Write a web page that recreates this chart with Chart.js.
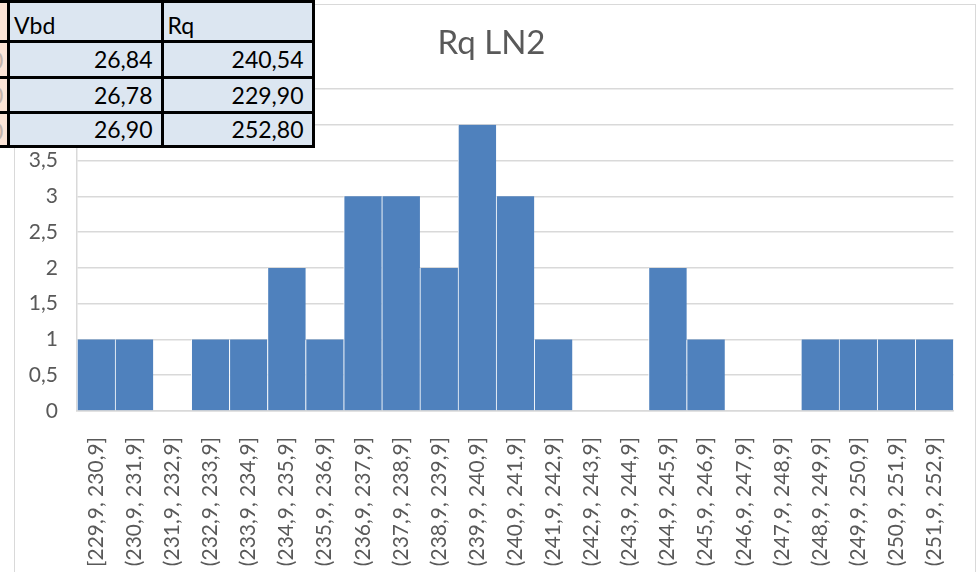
<!DOCTYPE html>
<html>
<head>
<meta charset="utf-8">
<script src="https://cdn.jsdelivr.net/npm/chart.js@4/dist/chart.umd.min.js"></script>
<style>
  html, body { margin: 0; padding: 0; background: #fff; overflow: hidden; }
  body { width: 978px; height: 572px; position: relative; }
  #frame { position: absolute; left: 14px; top: 4px; width: 960px; height: 700px; border: 1.5px solid #d9d9d9; }
  #wrap { position: absolute; left: 0; top: 0; width: 978px; height: 572px; }
  #sheet { position: absolute; left: 0; top: 0; width: 330px; height: 160px; font-family: Lato, sans-serif; font-size: 23px; color: #000; }
  #sheet div { position: absolute; box-sizing: border-box; }
</style>
</head>
<body>
<div id="frame"></div>
<div id="wrap"><canvas id="myChart"></canvas></div>
<div id="sheet"></div>
<script>
// histogram bins and counts
const categories = [
  '[229,9, 230,9]', '(230,9, 231,9]', '(231,9, 232,9]', '(232,9, 233,9]',
  '(233,9, 234,9]', '(234,9, 235,9]', '(235,9, 236,9]', '(236,9, 237,9]',
  '(237,9, 238,9]', '(238,9, 239,9]', '(239,9, 240,9]', '(240,9, 241,9]',
  '(241,9, 242,9]', '(242,9, 243,9]', '(243,9, 244,9]', '(244,9, 245,9]',
  '(245,9, 246,9]', '(246,9, 247,9]', '(247,9, 248,9]', '(248,9, 249,9]',
  '(249,9, 250,9]', '(250,9, 251,9]', '(251,9, 252,9]'
];
const counts = [1, 1, 0, 1, 1, 2, 1, 3, 3, 2, 4, 3, 1, 0, 0, 2, 1, 0, 0, 1, 1, 1, 1];
const chartTitle = 'Rq LN2';

// the little spreadsheet table pasted over the chart
const tableHeaders = ['Vbd', 'Rq'];
const vbdValues = ['26,84', '26,78', '26,90'];
const rqValues = ['240,54', '229,90', '252,80'];

var ctx = document.getElementById('myChart').getContext('2d');
var chart = new Chart(ctx, {
  type: 'bar',
  data: {
    labels: categories,
    datasets: [{
      label: chartTitle,
      data: counts,
      backgroundColor: '#4f81bd',
      borderColor: '#ffffff',
      borderWidth: { left: 1, right: 0, top: 0, bottom: 0 },
      borderSkipped: false,
      barPercentage: 1,
      categoryPercentage: 1
    }]
  },
  options: {
    responsive: true,
    maintainAspectRatio: false,
    animation: false,
    events: [],
    layout: { padding: { left: 27, right: 22, top: 0, bottom: 0 } },
    plugins: {
      legend: { display: false },
      tooltip: { enabled: false },
      title: {
        display: true,
        text: chartTitle,
        color: '#595959',
        font: { family: 'Lato', size: 33, weight: 'normal' },
        padding: { top: 24, bottom: 25.4 }
      }
    },
    scales: {
      x: {
        grid: { display: false },
        border: { display: true, color: '#d9d9d9', width: 1.5 },
        ticks: {
          autoSkip: false,
          minRotation: 90,
          maxRotation: 90,
          padding: 18,
          color: '#595959',
          font: { family: 'Lato', size: 21 }
        },
        afterFit: function (scale) { scale.height = 161; }
      },
      y: {
        min: 0,
        max: 4.5,
        grid: { color: '#d9d9d9', lineWidth: 1.5, drawTicks: false },
        border: { display: true, color: '#d9d9d9', width: 1.5 },
        ticks: {
          stepSize: 0.5,
          padding: 19,
          color: '#595959',
          font: { family: 'Lato', size: 21 },
          callback: function (v) { return String(v).replace('.', ','); }
        },
        afterFit: function (scale) { scale.width = 50; }
      }
    }
  }
});

// build the table overlay
const sheet = document.getElementById('sheet');
function box(x, y, w, h, style, text) {
  const d = document.createElement('div');
  d.style.left = x + 'px'; d.style.top = y + 'px';
  d.style.width = w + 'px'; d.style.height = h + 'px';
  Object.assign(d.style, style || {});
  if (text !== undefined) d.textContent = text;
  sheet.appendChild(d);
  return d;
}
const rowLines = [1, 41.5, 77, 112.5, 146.5];
const colLines = [8.5, 162, 313];
box(0, 0, 8.5, 146.5, { background: '#fce4d6' });
box(8.5, 0, 313 - 8.5, 146.5, { background: '#dce6f1' });
// cut-off text in the column to the left
for (let r = 1; r < 4; r++) {
  box(0, rowLines[r], 8, rowLines[r + 1] - rowLines[r], { overflow: 'hidden' }).appendChild(
    Object.assign(document.createElement('span'), {
      textContent: '0',
      style: 'position:absolute;left:-10px;top:4px;color:#c4b4ac'
    })
  );
}
const colData = [[tableHeaders[0]].concat(vbdValues), [tableHeaders[1]].concat(rqValues)];
for (let c = 0; c < 2; c++) {
  for (let r = 0; r < 4; r++) {
    const x0 = colLines[c], x1 = colLines[c + 1];
    const y0 = rowLines[r], y1 = rowLines[r + 1];
    box(x0 + 1.5, y0 + 1.5, x1 - x0 - 3, y1 - y0 - 3, {
      textAlign: r === 0 ? 'left' : 'right',
      padding: r === 0 ? '0 0 0 4px' : '0 8px 0 0',
      lineHeight: (y1 - y0 - 3) + 'px',
      paddingTop: r === 0 ? '4px' : '0px'
    }, colData[c][r]);
  }
}
rowLines.forEach(function (y) { box(0, y - 1.5, 314.5, 3, { background: '#000' }); });
colLines.forEach(function (x) { box(x - 1.5, 0, 3, 148, { background: '#000' }); });
</script>
</body>
</html>
